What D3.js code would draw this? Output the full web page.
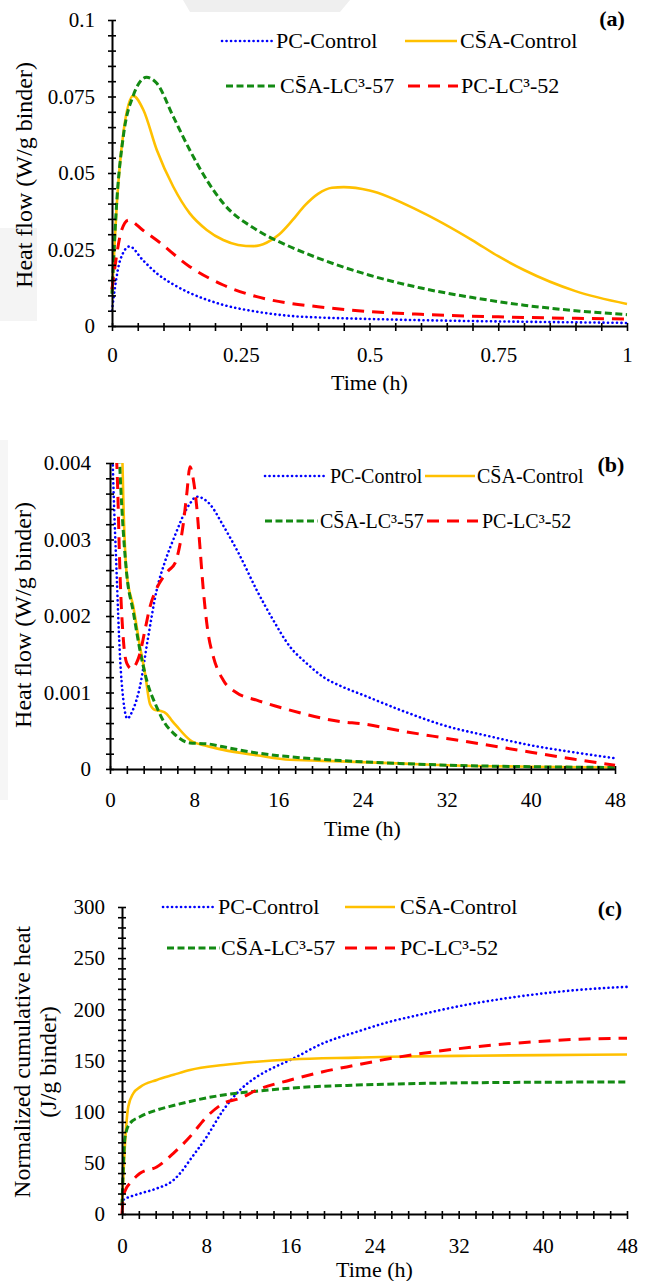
<!DOCTYPE html>
<html>
<head>
<meta charset="UTF-8">
<title>Heat flow and cumulative heat</title>
<script src="https://d3js.org/d3.v7.min.js"></script>
<style>
  body { margin: 0; background: #fff; }
  svg text { font-family: "Liberation Serif", "Tinos", "Times New Roman", "DejaVu Serif", serif !important; fill: #000; }
</style>
</head>
<body>
<script>
// Series names (legend labels)
var seriesNames = ["PC-Control", "CS\u0304A-Control", "CS\u0304A-LC\u00b3-57", "PC-LC\u00b3-52"];

// ---- Panel (a): heat flow, first hour ----
var aXTicks = [0, 0.25, 0.5, 0.75, 1];
var aYTicks = [0, 0.025, 0.05, 0.075, 0.1];
var aTimePC = [0, 0.006, 0.016, 0.034, 0.06, 0.087, 0.12, 0.151, 0.184, 0.216, 0.28, 0.346, 0.4, 0.5, 0.6, 0.75, 0.9, 1.0];
var aPC     = [0.005, 0.0128, 0.0216, 0.026, 0.0215, 0.0172, 0.0135, 0.0108, 0.0086, 0.0069, 0.0047, 0.0033, 0.0028, 0.0023, 0.0019, 0.0015, 0.0012, 0.001];
var aTimeCSA = [0, 0.009, 0.022, 0.041, 0.061, 0.087, 0.119, 0.151, 0.184, 0.216, 0.245, 0.275, 0.3, 0.325, 0.35, 0.375, 0.4, 0.427, 0.45, 0.5, 0.6, 0.7, 0.75, 0.8, 0.9, 1.0];
var aCSA     = [0.0108, 0.039, 0.063, 0.0752, 0.0706, 0.0575, 0.0455, 0.0368, 0.0314, 0.0281, 0.0265, 0.0261, 0.0272, 0.03, 0.0345, 0.0395, 0.0432, 0.0452, 0.0454, 0.0443, 0.0373, 0.028, 0.0228, 0.0183, 0.0114, 0.0072];
var aTimeLC57 = [0, 0.009, 0.022, 0.041, 0.067, 0.087, 0.119, 0.151, 0.184, 0.216, 0.281, 0.346, 0.4, 0.5, 0.6, 0.7, 0.8, 0.9, 1.0];
var aLC57     = [0.0105, 0.04, 0.062, 0.0752, 0.0813, 0.0793, 0.0684, 0.0575, 0.0477, 0.0401, 0.0314, 0.0259, 0.0222, 0.0166, 0.0124, 0.0093, 0.0068, 0.005, 0.0037];
var aTimeLC52 = [0, 0.008, 0.018, 0.032, 0.06, 0.087, 0.151, 0.216, 0.281, 0.346, 0.4, 0.5, 0.6, 0.75, 0.9, 1.0];
var aLC52     = [0.012, 0.022, 0.031, 0.0346, 0.0313, 0.028, 0.0194, 0.0134, 0.0096, 0.0074, 0.0063, 0.0047, 0.0038, 0.003, 0.0025, 0.0023];

// ---- Panel (b): heat flow, 48 h (clipped at 0.004) ----
var bXTicks = [0, 8, 16, 24, 32, 40, 48];
var bYTicks = [0, 0.001, 0.002, 0.003, 0.004];
var bTimePC = [0, 0.26, 0.63, 0.95, 1.27, 1.65, 2.1, 2.85, 3.6, 4.44, 5.2, 6.02, 7.6, 8.24, 9.5, 10.77, 12.3, 13.94, 15.5, 17.1, 18.7, 20.3, 22, 24, 28, 32, 36, 40, 44, 48];
var bPC     = [0.0055, 0.004, 0.00256, 0.00147, 0.0009, 0.00066, 0.00075, 0.00108, 0.0017, 0.00234, 0.0027, 0.003, 0.00347, 0.00356, 0.00346, 0.00318, 0.0028, 0.00234, 0.00195, 0.0016, 0.00138, 0.0012, 0.00108, 0.00097, 0.00075, 0.00056, 0.00043, 0.00031, 0.00022, 0.00014];
var bTimeCSA = [1.1, 1.27, 1.58, 2.22, 2.85, 3.33, 3.8, 4.3, 4.75, 5.39, 5.9, 6.34, 7.6, 9.2, 10.77, 13.94, 17.1, 21.9, 28, 32, 40, 48];
var bCSA     = [0.0045, 0.0035, 0.00256, 0.00212, 0.0016, 0.00125, 0.00085, 0.00077, 0.00076, 0.00072, 0.00063, 0.00056, 0.00038, 0.0003, 0.00025, 0.00018, 0.00012, 0.0001, 0.00007, 0.00005, 0.00003, 0.00002];
var bTimeLC57 = [0.8, 0.95, 1.12, 1.58, 2.22, 2.85, 3.49, 4.44, 5.2, 6.02, 7.6, 9.19, 10.77, 13.94, 17.1, 21.9, 28, 32, 40, 48];
var bLC57     = [0.0045, 0.0039, 0.00343, 0.00256, 0.00205, 0.00155, 0.00116, 0.00081, 0.0006, 0.00047, 0.00034, 0.00033, 0.00029, 0.00021, 0.00016, 0.00011, 0.00007, 0.00005, 0.00003, 0.00002];
var bTimeLC52 = [0.4, 0.7, 0.95, 1.27, 1.6, 2.06, 2.5, 2.85, 3.3, 3.8, 4.4, 5.07, 5.6, 6.18, 6.6, 6.97, 7.3, 7.6, 7.9, 8.24, 8.55, 8.87, 9.3, 9.82, 10.77, 12, 13.94, 17.1, 21.9, 24, 28, 32, 36, 40, 44, 48];
var bLC52     = [0.0046, 0.0038, 0.00256, 0.00169, 0.00138, 0.00131, 0.00138, 0.00151, 0.0018, 0.00212, 0.00235, 0.00251, 0.0026, 0.00269, 0.0029, 0.00321, 0.0036, 0.00395, 0.0038, 0.00343, 0.0029, 0.00234, 0.0018, 0.00147, 0.00116, 0.001, 0.0009, 0.00077, 0.00062, 0.00059, 0.00049, 0.0004, 0.00031, 0.00022, 0.00013, 0.00005];

// ---- Panel (c): normalized cumulative heat ----
var cXTicks = [0, 8, 16, 24, 32, 40, 48];
var cYTicks = [0, 50, 100, 150, 200, 250, 300];
var cTimePC = [0, 0.13, 0.8, 1.71, 3.3, 4.88, 5.7, 6.46, 8.05, 9.63, 11.2, 12.8, 14.4, 16, 19.1, 22.3, 25.5, 28, 32, 36, 40, 44, 48];
var cPC     = [10, 13.7, 17, 20, 25, 33, 42, 52.8, 75.5, 101.6, 121, 134, 143, 150.5, 166.8, 178, 188, 194, 203, 210, 215.5, 219.5, 222];
var cTimeCSA = [0, 0.1, 0.25, 0.6, 1.08, 1.71, 3.3, 4.9, 6.46, 9.63, 12.8, 16, 22.3, 25.5, 32, 40, 48];
var cCSA     = [10, 30, 62, 105, 118, 124, 131, 136, 140.7, 145.6, 148.8, 151, 152.8, 153.6, 154.5, 155.3, 155.8];
var cTimeLC57 = [0, 0.1, 0.29, 0.76, 1.71, 3.3, 4.88, 6.46, 9.63, 12.8, 16, 22.3, 28, 36, 48];
var cLC57     = [8, 40, 75.5, 88.6, 95, 101.6, 106, 110, 116.3, 120, 123, 126, 127.5, 128.5, 129];
var cTimeLC52 = [0, 0.13, 0.4, 0.76, 1.71, 3.3, 4.88, 6.46, 8.05, 9.63, 11.2, 12.8, 16, 19.1, 22.3, 25.5, 30.9, 37.2, 43.5, 48];
var cLC52     = [0, 17, 25, 30, 39.8, 46, 59.3, 75.5, 95, 108, 113, 121, 131, 139, 145.6, 152, 160.2, 166.8, 170.8, 171.8];

// Line styles for each series (same order as seriesNames)
var styles = [
  {color: "#0000ff", width: 2.6, dash: "0.1,4.4", cap: "round"},
  {color: "#ffc000", width: 2.6, dash: null, cap: "butt"},
  {color: "#138a13", width: 3, dash: "7,3.5", cap: "butt"},
  {color: "#ff0000", width: 3, dash: "12,8", cap: "butt"}
];

var svg = d3.select("body").append("svg")
  .attr("width", 646)
  .attr("height", 1281);

// faint grey background marks of the page
svg.append("polygon").attr("points", "183,0 350,0 340,12 190,12").attr("fill", "#efefef");
svg.append("rect").attr("x", 0).attr("y", 228).attr("width", 37).attr("height", 93).attr("fill", "#f4f4f4");
svg.append("rect").attr("x", 0).attr("y", 440).attr("width", 8).attr("height", 360).attr("fill", "#f6f6f6");

function pairs(t, v) {
  return t.map(function(d, i) { return [d, v[i]]; });
}

function drawPanel(p, idx) {
  var x = d3.scaleLinear().domain([p.xTicks[0], p.xTicks[p.xTicks.length - 1]]).range([p.left, p.right]);
  var y = d3.scaleLinear().domain([p.yTicks[0], p.yTicks[p.yTicks.length - 1]]).range([p.bottom, p.top]);

  // minor tick values: five per major step
  function minors(ticks) {
    var out = [];
    for (var i = 0; i < ticks.length - 1; i++) {
      var st = (ticks[i + 1] - ticks[i]) / 5;
      for (var k = 1; k < 5; k++) out.push(ticks[i] + k * st);
    }
    return out;
  }

  var g = svg.append("g");

  // clip region for the curves
  var clipId = "clip" + idx;
  svg.append("clipPath").attr("id", clipId)
    .append("rect")
    .attr("x", p.left - 2).attr("y", p.top)
    .attr("width", p.right - p.left + 4).attr("height", p.bottom - p.top + 2);

  var line = d3.line()
    .x(function(d) { return x(d[0]); })
    .y(function(d) { return y(d[1]); })
    .curve(d3.curveMonotoneX);

  var lines = g.append("g").attr("clip-path", "url(#" + clipId + ")");
  p.series.forEach(function(s, i) {
    var st = styles[i];
    lines.append("path")
      .datum(pairs(s[0], s[1]))
      .attr("fill", "none")
      .attr("stroke", st.color)
      .attr("stroke-width", st.width)
      .attr("stroke-dasharray", st.dash)
      .attr("stroke-linecap", st.cap)
      .attr("d", line);
  });

  // y axis: major ticks with labels
  var yAx = g.append("g").attr("transform", "translate(" + p.left + ",0)")
    .call(d3.axisLeft(y).tickValues(p.yTicks).tickSizeInner(4).tickSizeOuter(0).tickPadding(p.yPad)
      .tickFormat(function(d) { return String(d); }));
  yAx.selectAll(".tick line").attr("x1", 4);
  // y axis minor ticks
  var yMin = g.append("g").attr("transform", "translate(" + p.left + ",0)")
    .call(d3.axisLeft(y).tickValues(minors(p.yTicks)).tickSizeInner(4).tickSizeOuter(0).tickFormat(""));
  yMin.selectAll(".tick line").attr("x1", 4);
  yMin.select(".domain").remove();

  // x axis
  var xAx = g.append("g").attr("transform", "translate(0," + p.bottom + ")")
    .call(d3.axisBottom(x).tickValues(p.xTicks).tickSizeInner(5).tickSizeOuter(0).tickPadding(p.xPad)
      .tickFormat(function(d) { return String(d); }));
  xAx.selectAll(".tick line").attr("y1", -3);
  var xMin = g.append("g").attr("transform", "translate(0," + p.bottom + ")")
    .call(d3.axisBottom(x).tickValues(minors(p.xTicks)).tickSizeInner(5).tickSizeOuter(0).tickFormat(""));
  xMin.selectAll(".tick line").attr("y1", -3);
  xMin.select(".domain").remove();

  g.selectAll("g").attr("font-family", null);
  g.selectAll(".domain").attr("stroke", "#000").attr("stroke-width", 2);
  g.selectAll(".tick line").attr("stroke", "#000").attr("stroke-width", 1.6);
  g.selectAll(".tick text")
    .style("font-size", "21px")
    .attr("fill", "#000");

  // x axis title
  g.append("text")
    .attr("x", (p.left + p.right) / 2)
    .attr("y", p.xTitleY)
    .attr("text-anchor", "middle")
    .style("font-size", "22px")
    .text("Time (h)");

  // y axis title (one or two lines)
  p.yTitle.forEach(function(t, i) {
    g.append("text")
      .attr("transform", "translate(" + p.yTitleX[i] + "," + p.yTitleMid + ") rotate(-90)")
      .attr("text-anchor", "middle")
      .attr("dy", "0.35em")
      .style("font-size", "24px")
      .text(t);
  });

  // panel letter
  g.append("text")
    .attr("x", p.tag[0]).attr("y", p.tag[1])
    .attr("text-anchor", "middle")
    .style("font-size", "22px")
    .style("font-weight", "bold")
    .text(p.tag[2]);

  // legend
  p.legend.forEach(function(L, i) {
    var st = styles[i];
    g.append("line")
      .attr("x1", L[0]).attr("x2", L[1]).attr("y1", L[2]).attr("y2", L[2])
      .attr("stroke", st.color)
      .attr("stroke-width", st.width)
      .attr("stroke-dasharray", st.dash)
      .attr("stroke-linecap", st.cap);
    g.append("text")
      .attr("x", L[3]).attr("y", L[2])
      .attr("dy", "0.34em")
      .style("font-size", p.legendSize + "px")
      .text(seriesNames[i]);
  });
}

drawPanel({
  left: 112, right: 627, top: 20, bottom: 326,
  xTicks: aXTicks, yTicks: aYTicks, yPad: 13, xPad: 16,
  series: [[aTimePC, aPC], [aTimeCSA, aCSA], [aTimeLC57, aLC57], [aTimeLC52, aLC52]],
  xTitleY: 390, yTitle: ["Heat flow (W/g binder)"], yTitleX: [24], yTitleMid: 175,
  tag: [612, 26, "(a)"], legendSize: 22,
  legend: [[222, 272, 41, 276], [405, 457, 41, 460], [226, 278, 86, 280], [408, 458, 86, 461]]
}, 0);

drawPanel({
  left: 110, right: 615, top: 463, bottom: 769,
  xTicks: bXTicks, yTicks: bYTicks, yPad: 15, xPad: 18,
  series: [[bTimePC, bPC], [bTimeCSA, bCSA], [bTimeLC57, bLC57], [bTimeLC52, bLC52]],
  xTitleY: 836, yTitle: ["Heat flow (W/g binder)"], yTitleX: [23], yTitleMid: 615,
  tag: [611, 472, "(b)"], legendSize: 20,
  legend: [[265, 325, 476, 330], [425, 475, 476, 477], [265, 318, 521, 320], [427, 478, 521, 482]]
}, 1);

drawPanel({
  left: 122, right: 627, top: 907, bottom: 1214,
  xTicks: cXTicks, yTicks: cYTicks, yPad: 13, xPad: 19,
  series: [[cTimePC, cPC], [cTimeCSA, cCSA], [cTimeLC57, cLC57], [cTimeLC52, cLC52]],
  xTitleY: 1277, yTitle: ["Normalized cumulative heat", "(J/g binder)"], yTitleX: [22, 48], yTitleMid: 1062,
  tag: [610, 916, "(c)"], legendSize: 22,
  legend: [[163, 215, 907, 218], [345, 395, 907, 400], [167, 220, 948, 221], [345, 395, 948, 400]]
}, 2);
</script>
</body>
</html>
